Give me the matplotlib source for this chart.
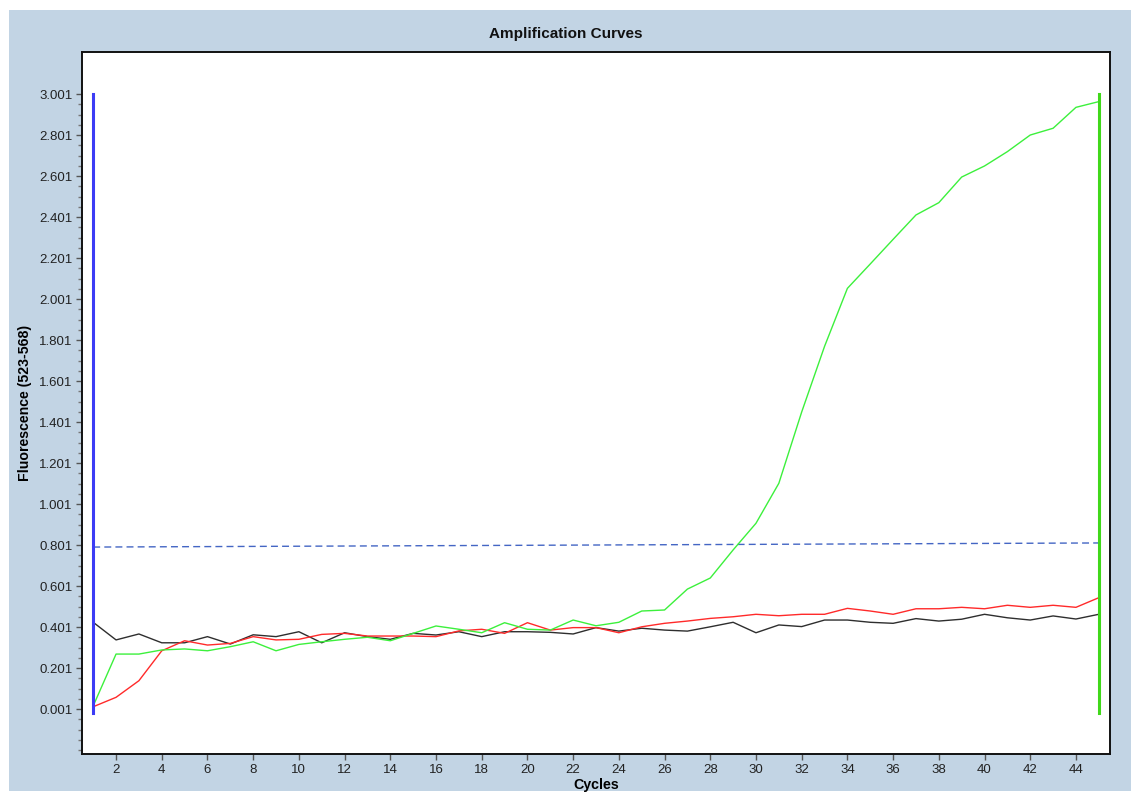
import matplotlib
matplotlib.use("Agg")
import matplotlib.pyplot as plt
from matplotlib.patches import Rectangle
import numpy as np

cycles = list(range(1, 46))

green = [0.016, 0.269, 0.269, 0.289, 0.294, 0.285, 0.305, 0.329, 0.285, 0.316,
         0.329, 0.341, 0.351, 0.334, 0.370, 0.406, 0.390, 0.373, 0.422, 0.390,
         0.386, 0.435, 0.407, 0.424, 0.479, 0.484, 0.586, 0.640, 0.777, 0.907,
         1.102, 1.450, 1.770, 2.053, 2.172, 2.292, 2.411, 2.471, 2.596, 2.650,
         2.720, 2.801, 2.834, 2.936, 2.964]

red = [0.012, 0.058, 0.139, 0.285, 0.334, 0.313, 0.321, 0.354, 0.338, 0.341,
       0.365, 0.370, 0.357, 0.357, 0.357, 0.354, 0.382, 0.390, 0.370, 0.422,
       0.386, 0.398, 0.398, 0.373, 0.402, 0.419, 0.430, 0.443, 0.451, 0.463,
       0.456, 0.463, 0.463, 0.492, 0.479, 0.463, 0.490, 0.490, 0.497, 0.490,
       0.507, 0.497, 0.507, 0.497, 0.544]

black = [0.424, 0.338, 0.367, 0.324, 0.324, 0.354, 0.318, 0.363, 0.354, 0.378,
         0.324, 0.373, 0.354, 0.341, 0.370, 0.362, 0.378, 0.354, 0.378, 0.378,
         0.375, 0.367, 0.398, 0.381, 0.395, 0.386, 0.381, 0.402, 0.424, 0.373,
         0.411, 0.403, 0.435, 0.435, 0.424, 0.419, 0.442, 0.430, 0.439, 0.463,
         0.446, 0.435, 0.455, 0.440, 0.463]

threshold_x = [1, 45]
threshold_y = [0.791, 0.811]

start_cycle, end_cycle = 1, 45
marker_bottom, marker_top = -0.02, 3.001

xticks = list(range(2, 46, 2))
yticks = [0.001 + 0.2 * i for i in range(16)]
ytick_labels = ["%.3f" % v for v in yticks]

W, H = 1131, 798
fig = plt.figure(figsize=(W / 100, H / 100), dpi=100, facecolor="white")
bg = Rectangle((9 / W, 7 / H), 1 - 9 / W, 1 - 17 / H,
               transform=fig.transFigure, facecolor="#C2D4E4",
               edgecolor="none", zorder=-10)
fig.add_artist(bg)

ax = fig.add_axes([82 / W, 1 - 754 / H, (1110 - 82) / W, (754 - 52) / H])
ax.set_zorder(1)
ax.set_facecolor("white")

font = "Liberation Sans"

ax.plot(cycles, black, color="#2e2e2e", lw=1.0, zorder=3)
ax.plot(cycles, red, color="#ff2a2a", lw=1.0, zorder=3)
ax.plot(cycles, green, color="#3cf03c", lw=1.0, zorder=4)

ax.plot(threshold_x, threshold_y, color="#4466c4", lw=1.0, ls=(0, (5, 3)), zorder=2)

ax.plot([start_cycle, start_cycle], [marker_bottom, marker_top], color="#3c3cf5", lw=2.2, zorder=5)
ax.plot([end_cycle, end_cycle], [marker_bottom, marker_top], color="#40d81a", lw=2.2, zorder=5)

ax.set_xlim(0.51, 45.49)
ax.set_ylim(-0.2185, 3.206)

ax.set_xticks(xticks)
ax.set_xticklabels([str(t) for t in xticks])
ax.set_yticks(yticks)
ax.set_yticklabels(ytick_labels)
ax.set_yticks(np.arange(-0.199, 3.01, 0.05), minor=True)

ax.tick_params(axis="both", which="major", length=4, width=1, color="#555555",
               labelsize=9.5, labelcolor="#222222", pad=3)
ax.tick_params(axis="y", which="minor", length=3, width=1, color="#777777")
for lab in ax.get_xticklabels() + ax.get_yticklabels():
    lab.set_family(font)

for s in ax.spines.values():
    s.set_color("#111111")
    s.set_linewidth(1.4)

ax.set_xlabel("Cycles", fontsize=10.3, fontweight="bold", family=font, labelpad=2)
ax.set_ylabel("Fluorescence (523-568)", fontsize=10.2, fontweight="bold", family=font, labelpad=5)

fig.text(566 / W, 1 - 34 / H, "Amplification Curves", ha="center", va="center",
         fontsize=11, fontweight="bold", family=font, color="#111111")

fig.savefig("out.png", dpi=100, facecolor=fig.get_facecolor())
